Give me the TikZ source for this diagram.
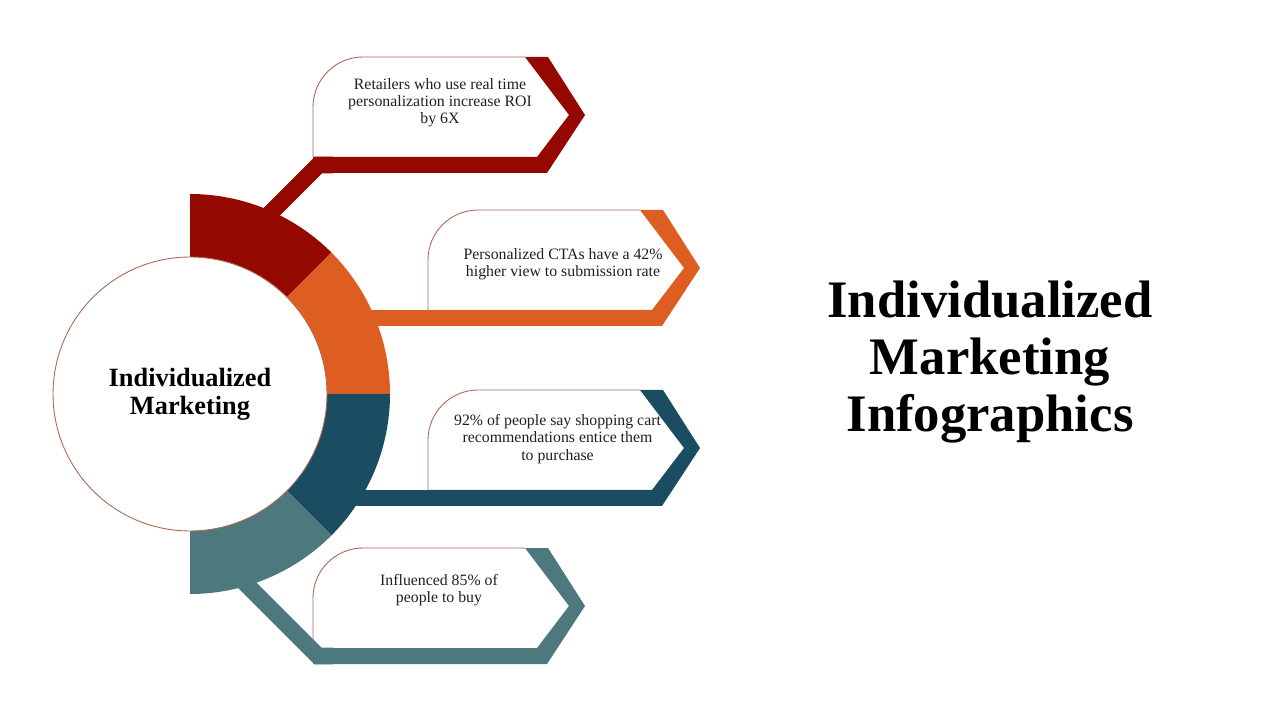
\documentclass[tikz,border=0pt]{standalone}
\usepackage{fontspec}
\setmainfont{Liberation Serif}
\usepackage{xcolor}
\usepackage{tikz}
\usetikzlibrary{positioning}
\definecolor{segred}{RGB}{148,8,0}
\definecolor{segorange}{RGB}{222,94,34}
\definecolor{segblue}{RGB}{26,77,98}
\definecolor{segteal}{RGB}{77,120,125}
\definecolor{rim}{RGB}{168,104,84}

\begin{document}
\begin{tikzpicture}[
  x=0.02cm, y=0.02cm,
  band/.style={line width=9.6pt, line join=miter},
  outline/.style={draw=rim, line width=0.5pt},
  note/.style={font=\fontsize{9}{9.8}\selectfont, align=center, text=black!88},
  hubtext/.style={font=\fontsize{15}{16}\selectfont\bfseries, align=center},
  title/.style={font=\fontsize{30}{32.3}\selectfont\bfseries, align=center}
]
  \useasboundingbox (0,0) rectangle (1280,720);

  % Connector end points.
  \coordinate (o) at (190,326);
  \coordinate (r1) at (250,486.5); \coordinate (k1) at (318.5,555); \coordinate (e1) at (333,555);
  \coordinate (r2) at (340,402);   \coordinate (e2) at (448,402);
  \coordinate (r3) at (340,222);   \coordinate (e3) at (448,222);
  \coordinate (r4) at (240,142);   \coordinate (k4) at (318,64);    \coordinate (e4) at (333,64);
  \draw[band, segred] (r1) -- (k1) -- (e1);
  \draw[band, segorange] (r2) -- (e2);
  \draw[band, segblue] (r3) -- (e3);
  \draw[band, segteal] (r4) -- (k4) -- (e4);

  % Ring around the hub.
  \fill[segred] (o) -- ++(90:200) arc[start angle=90, end angle=45, radius=200] -- cycle;
  \fill[segorange] (o) -- ++(45:200) arc[start angle=45, end angle=0, radius=200] -- cycle;
  \fill[segblue] (o) -- ++(0:200) arc[start angle=0, end angle=-45, radius=200] -- cycle;
  \fill[segteal] (o) -- ++(-45:200) arc[start angle=-45, end angle=-90, radius=200] -- cycle;
  \node[circle, outline, fill=white, minimum size=5.48cm, hubtext] (hub) at (o)
    {Individualized\\Marketing};

  % Callout 1.
  \begin{scope}[shift={(313,663)}]
    \fill[segred] (212,0) -- (235,0) -- (272,-58) -- (234,-116) -- (0,-116) -- (0,-100)
      -- (224,-100) -- (256,-58) -- cycle;
    \draw[outline] (0,-100) -- (0,-50) arc[start angle=180, end angle=90, radius=50] -- (212,0);
    \node[note] (n1) at (127,-46) {Retailers who use real time\\personalization increase ROI\\by 6X};
  \end{scope}

  % Callout 2.
  \begin{scope}[shift={(428,510)}]
    \fill[segorange] (212,0) -- (235,0) -- (272,-58) -- (234,-116) -- (0,-116) -- (0,-100)
      -- (224,-100) -- (256,-58) -- cycle;
    \draw[outline] (0,-100) -- (0,-50) arc[start angle=180, end angle=90, radius=50] -- (212,0);
    \node[note] (n2) at (135,-54) {Personalized CTAs have a 42\%\\higher view to submission rate};
  \end{scope}

  % Callout 3.
  \begin{scope}[shift={(428,330)}]
    \fill[segblue] (212,0) -- (235,0) -- (272,-58) -- (234,-116) -- (0,-116) -- (0,-100)
      -- (224,-100) -- (256,-58) -- cycle;
    \draw[outline] (0,-100) -- (0,-50) arc[start angle=180, end angle=90, radius=50] -- (212,0);
    \node[note] (n3) at (129.5,-49) {92\% of people say shopping cart\\recommendations entice them\\to purchase};
  \end{scope}

  % Callout 4.
  \begin{scope}[shift={(313,172)}]
    \fill[segteal] (212,0) -- (235,0) -- (272,-58) -- (234,-116) -- (0,-116) -- (0,-100)
      -- (224,-100) -- (256,-58) -- cycle;
    \draw[outline] (0,-100) -- (0,-50) arc[start angle=180, end angle=90, radius=50] -- (212,0);
    \node[note] (n4) at (126,-42) {Influenced 85\% of\\people to buy};
  \end{scope}

  % Title.
  \node[title] (title) at (990,358) {Individualized\\Marketing\\Infographics};
\end{tikzpicture}
\end{document}
